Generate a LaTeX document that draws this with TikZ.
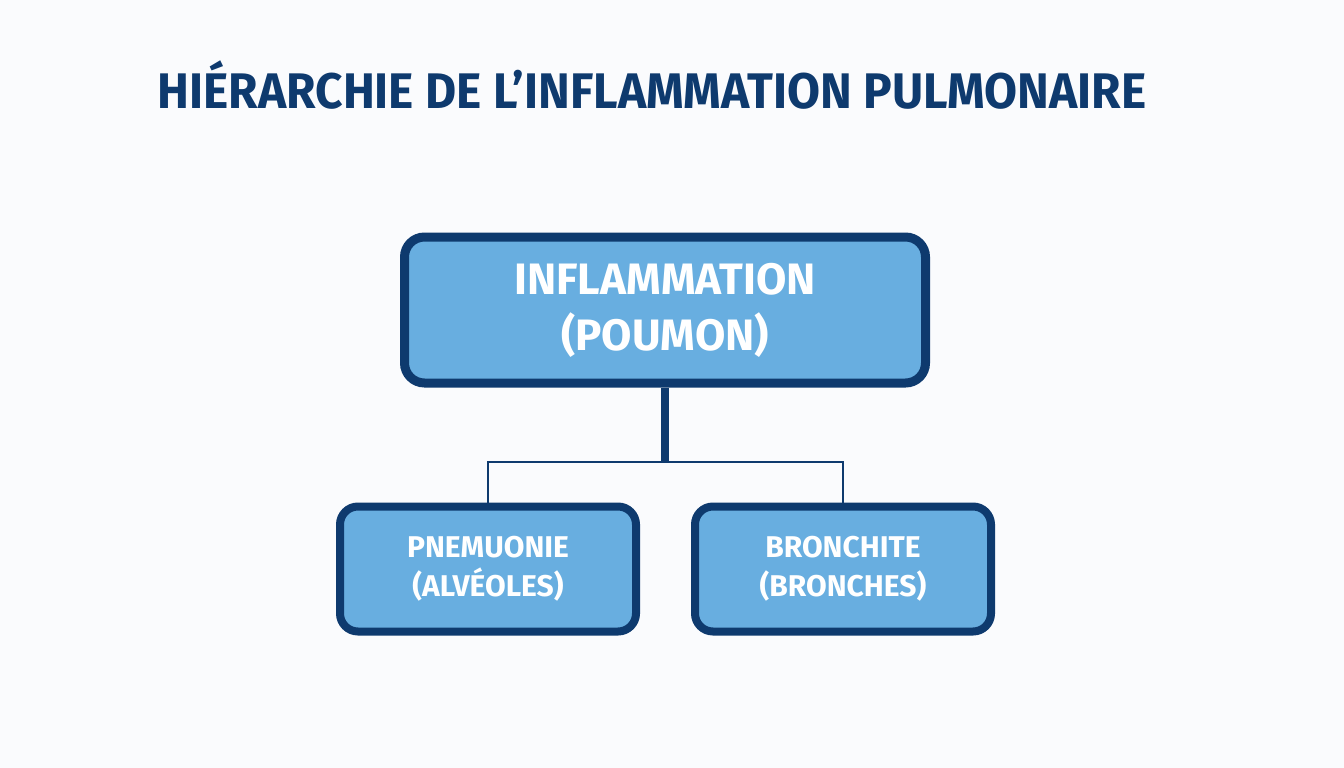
\documentclass[tikz,border=0pt]{standalone}
\usepackage{fontspec}
\setmainfont{Fira Sans}
\definecolor{navy}{HTML}{0E3A6E}
\definecolor{boxfill}{HTML}{68AEE0}
\definecolor{bg}{HTML}{FAFBFD}
\begin{document}
\begin{tikzpicture}[x=1pt,y=-1pt,
  bigbox/.style={draw=navy,line width=9pt,fill=boxfill,rounded corners=20pt,minimum width=521pt,minimum height=146pt,text=white,font=\fontsize{44}{56}\selectfont\bfseries,align=center},
  smallbox/.style={draw=navy,line width=8pt,fill=boxfill,rounded corners=18pt,minimum width=296pt,minimum height=125pt,text=white,font=\fontsize{30}{39}\selectfont\bfseries,align=center},
  link/.style={draw=navy,line width=2pt}]
\fill[bg] (0,0) rectangle (1344,768);
\useasboundingbox (0,0) rectangle (1344,768);
\node[text=navy,font=\fontsize{50}{60}\selectfont\bfseries] (title) at (652,85) {\scalebox{0.957}[1]{HIÉRARCHIE DE L’INFLAMMATION PULMONAIRE}};
\node[bigbox] (top) at (665,310) {INFLAMMATION\\(POUMON)};
\node[smallbox] (left) at (488,569) {PNEMUONIE\\(ALVÉOLES)};
\node[smallbox] (right) at (843,569) {BRONCHITE\\(BRONCHES)};
\coordinate (j) at (665,462);
\draw[navy,line width=8pt] (top.south) -- (j);
\draw[link] (left.north) -- (left.north |- j) -- (right.north |- j) -- (right.north);
\end{tikzpicture}
\end{document}
